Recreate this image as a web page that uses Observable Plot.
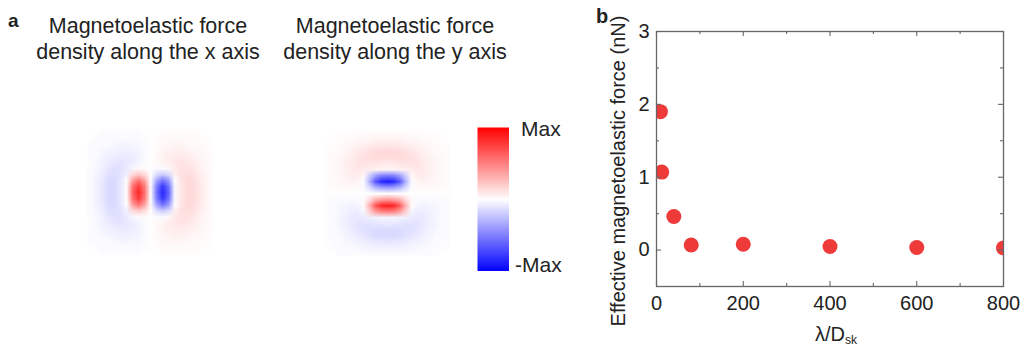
<!DOCTYPE html>
<html>
<head>
<meta charset="utf-8">
<script src="https://cdn.jsdelivr.net/npm/d3@7"></script>
<script src="https://cdn.jsdelivr.net/npm/@observablehq/plot@0.6"></script>
<style>
  body { margin: 0; background: #fff; }
  #root { position: relative; width: 1025px; height: 345px; overflow: hidden; background: #fff;
          font-family: "Liberation Sans", Arial, Helvetica, sans-serif; }
  .panel { position: absolute; }
  .panel svg { display: block; }
</style>
</head>
<body>
<div id="root"></div>
<script>
// ---------------- data ----------------
// panel a: magnetoelastic force density maps, 21 x 21 samples 6 px apart (row 0 = top), normalised to Max = 1
const forceDensityX = [
  [0,0,-0.01,-0.01,-0.01,-0.01,-0.01,-0.01,-0.01,0,0,0,0.01,0.01,0.01,0.01,0.01,0.01,0.01,0,0],
  [0,-0.01,-0.01,-0.02,-0.02,-0.02,-0.02,-0.02,-0.02,-0.01,0,0.01,0.02,0.02,0.02,0.02,0.02,0.02,0.01,0.01,0],
  [-0.01,-0.01,-0.02,-0.02,-0.03,-0.04,-0.04,-0.03,-0.03,-0.01,0,0.01,0.03,0.03,0.04,0.04,0.03,0.02,0.02,0.01,0.01],
  [-0.01,-0.02,-0.03,-0.04,-0.05,-0.06,-0.06,-0.05,-0.04,-0.02,0,0.02,0.04,0.05,0.06,0.06,0.05,0.04,0.03,0.02,0.01],
  [-0.01,-0.02,-0.04,-0.06,-0.07,-0.08,-0.08,-0.07,-0.05,-0.02,0,0.02,0.05,0.07,0.08,0.08,0.07,0.06,0.04,0.02,0.01],
  [-0.01,-0.03,-0.05,-0.08,-0.10,-0.11,-0.09,-0.07,-0.04,-0.02,0,0.02,0.04,0.07,0.09,0.11,0.10,0.08,0.05,0.03,0.01],
  [-0.01,-0.03,-0.06,-0.10,-0.12,-0.11,-0.08,-0.03,0.02,0.02,0,-0.02,-0.02,0.03,0.08,0.11,0.12,0.10,0.06,0.03,0.01],
  [-0.02,-0.04,-0.08,-0.12,-0.13,-0.11,-0.06,0.15,0.21,0.14,0,-0.14,-0.21,-0.15,0.06,0.11,0.13,0.12,0.08,0.04,0.02],
  [-0.02,-0.05,-0.09,-0.14,-0.14,-0.10,0,0.39,0.55,0.36,0,-0.36,-0.55,-0.39,0,0.10,0.14,0.14,0.09,0.05,0.02],
  [-0.02,-0.05,-0.10,-0.15,-0.14,-0.09,0.02,0.55,0.78,0.51,0,-0.51,-0.78,-0.55,-0.02,0.09,0.14,0.15,0.10,0.05,0.02],
  [-0.02,-0.05,-0.10,-0.15,-0.14,-0.08,0.02,0.60,0.85,0.55,0,-0.55,-0.85,-0.60,-0.02,0.08,0.14,0.15,0.10,0.05,0.02],
  [-0.02,-0.05,-0.10,-0.15,-0.14,-0.09,0.02,0.55,0.78,0.51,0,-0.51,-0.78,-0.55,-0.02,0.09,0.14,0.15,0.10,0.05,0.02],
  [-0.02,-0.05,-0.09,-0.14,-0.14,-0.10,0,0.39,0.55,0.36,0,-0.36,-0.55,-0.39,0,0.10,0.14,0.14,0.09,0.05,0.02],
  [-0.02,-0.04,-0.08,-0.12,-0.13,-0.11,-0.06,0.15,0.21,0.14,0,-0.14,-0.21,-0.15,0.06,0.11,0.13,0.12,0.08,0.04,0.02],
  [-0.01,-0.03,-0.06,-0.10,-0.12,-0.11,-0.08,-0.03,0.02,0.02,0,-0.02,-0.02,0.03,0.08,0.11,0.12,0.10,0.06,0.03,0.01],
  [-0.01,-0.03,-0.05,-0.08,-0.10,-0.11,-0.09,-0.07,-0.04,-0.02,0,0.02,0.04,0.07,0.09,0.11,0.10,0.08,0.05,0.03,0.01],
  [-0.01,-0.02,-0.04,-0.06,-0.07,-0.08,-0.08,-0.07,-0.05,-0.02,0,0.02,0.05,0.07,0.08,0.08,0.07,0.06,0.04,0.02,0.01],
  [-0.01,-0.02,-0.03,-0.04,-0.05,-0.06,-0.06,-0.05,-0.04,-0.02,0,0.02,0.04,0.05,0.06,0.06,0.05,0.04,0.03,0.02,0.01],
  [-0.01,-0.01,-0.02,-0.02,-0.03,-0.04,-0.04,-0.03,-0.03,-0.01,0,0.01,0.03,0.03,0.04,0.04,0.03,0.02,0.02,0.01,0.01],
  [0,-0.01,-0.01,-0.02,-0.02,-0.02,-0.02,-0.02,-0.02,-0.01,0,0.01,0.02,0.02,0.02,0.02,0.02,0.02,0.01,0.01,0],
  [0,0,-0.01,-0.01,-0.01,-0.01,-0.01,-0.01,-0.01,0,0,0,0.01,0.01,0.01,0.01,0.01,0.01,0.01,0,0]
];
const forceDensityY = [
  [0,0,0.01,0.01,0.01,0.01,0.01,0.02,0.02,0.02,0.02,0.02,0.02,0.02,0.01,0.01,0.01,0.01,0.01,0,0],
  [0,0.01,0.01,0.02,0.02,0.03,0.04,0.04,0.05,0.05,0.05,0.05,0.05,0.04,0.04,0.03,0.02,0.02,0.01,0.01,0],
  [0.01,0.01,0.02,0.03,0.04,0.05,0.06,0.08,0.09,0.10,0.10,0.10,0.09,0.08,0.06,0.05,0.04,0.03,0.02,0.01,0.01],
  [0.01,0.02,0.02,0.04,0.06,0.08,0.10,0.12,0.14,0.15,0.15,0.15,0.14,0.12,0.10,0.08,0.06,0.04,0.02,0.02,0.01],
  [0.01,0.02,0.03,0.05,0.07,0.10,0.12,0.13,0.14,0.14,0.14,0.14,0.14,0.13,0.12,0.10,0.07,0.05,0.03,0.02,0.01],
  [0.01,0.02,0.04,0.06,0.08,0.11,0.11,0.11,0.10,0.09,0.08,0.09,0.10,0.11,0.11,0.11,0.08,0.06,0.04,0.02,0.01],
  [0.01,0.02,0.04,0.06,0.08,0.09,0.08,0.06,0.05,0.04,0.04,0.04,0.05,0.06,0.08,0.09,0.08,0.06,0.04,0.02,0.01],
  [0.01,0.02,0.03,0.05,0.07,0.07,0.03,-0.19,-0.38,-0.48,-0.50,-0.48,-0.38,-0.19,0.03,0.07,0.07,0.05,0.03,0.02,0.01],
  [0.01,0.02,0.03,0.04,0.05,0.04,-0.02,-0.31,-0.66,-0.84,-0.88,-0.84,-0.66,-0.31,-0.02,0.04,0.05,0.04,0.03,0.02,0.01],
  [0.01,0.01,0.02,0.02,0.02,0.02,-0.02,-0.14,-0.30,-0.37,-0.40,-0.37,-0.30,-0.14,-0.02,0.02,0.02,0.02,0.02,0.01,0.01],
  [0,0,0,0,0,0,0,0,0,0,0,0,0,0,0,0,0,0,0,0,0],
  [-0.01,-0.01,-0.02,-0.02,-0.02,-0.02,0.02,0.14,0.30,0.37,0.40,0.37,0.30,0.14,0.02,-0.02,-0.02,-0.02,-0.02,-0.01,-0.01],
  [-0.01,-0.02,-0.03,-0.04,-0.05,-0.04,0.02,0.31,0.66,0.84,0.88,0.84,0.66,0.31,0.02,-0.04,-0.05,-0.04,-0.03,-0.02,-0.01],
  [-0.01,-0.02,-0.03,-0.05,-0.07,-0.07,-0.03,0.19,0.38,0.48,0.50,0.48,0.38,0.19,-0.03,-0.07,-0.07,-0.05,-0.03,-0.02,-0.01],
  [-0.01,-0.02,-0.04,-0.06,-0.08,-0.09,-0.08,-0.06,-0.05,-0.04,-0.04,-0.04,-0.05,-0.06,-0.08,-0.09,-0.08,-0.06,-0.04,-0.02,-0.01],
  [-0.01,-0.02,-0.04,-0.06,-0.08,-0.11,-0.11,-0.11,-0.10,-0.09,-0.08,-0.09,-0.10,-0.11,-0.11,-0.11,-0.08,-0.06,-0.04,-0.02,-0.01],
  [-0.01,-0.02,-0.03,-0.05,-0.07,-0.10,-0.12,-0.13,-0.14,-0.14,-0.14,-0.14,-0.14,-0.13,-0.12,-0.10,-0.07,-0.05,-0.03,-0.02,-0.01],
  [-0.01,-0.02,-0.02,-0.04,-0.06,-0.08,-0.10,-0.12,-0.14,-0.15,-0.15,-0.15,-0.14,-0.12,-0.10,-0.08,-0.06,-0.04,-0.02,-0.02,-0.01],
  [-0.01,-0.01,-0.02,-0.03,-0.04,-0.05,-0.06,-0.08,-0.09,-0.10,-0.10,-0.10,-0.09,-0.08,-0.06,-0.05,-0.04,-0.03,-0.02,-0.01,-0.01],
  [0,-0.01,-0.01,-0.02,-0.02,-0.03,-0.04,-0.04,-0.05,-0.05,-0.05,-0.05,-0.05,-0.04,-0.04,-0.03,-0.02,-0.02,-0.01,-0.01,0],
  [0,0,-0.01,-0.01,-0.01,-0.01,-0.01,-0.02,-0.02,-0.02,-0.02,-0.02,-0.02,-0.02,-0.01,-0.01,-0.01,-0.01,-0.01,0,0]
];
const mapTitles = [
  ["Magnetoelastic force", "density along the x axis"],
  ["Magnetoelastic force", "density along the y axis"]
];
const colorbarLabels = ["Max", "-Max"];

// panel b: effective magnetoelastic force vs lambda / D_sk
const lambdaOverD = [9, 12, 40, 80, 200, 400, 600, 800];
const effectiveForce = [1.90, 1.07, 0.46, 0.07, 0.08, 0.05, 0.035, 0.03];
const xMajorTicks = [0, 200, 400, 600, 800];
const xMinorTicks = [100, 300, 500, 700];
const yMajorTicks = [0, 1, 2, 3];
const yMinorTicks = [-0.5, 0.5, 1.5, 2.5];
const yLabel = "Effective magnetoelastic force (nN)";

// ---------------- drawing ----------------
const FONT = '"Liberation Sans", Arial, Helvetica, sans-serif';
const root = document.getElementById("root");
function place(node, left, top) {
  const d = document.createElement("div");
  d.className = "panel";
  d.style.left = left + "px";
  d.style.top = top + "px";
  d.appendChild(node);
  root.appendChild(d);
  return node;
}
const colorScale = {type: "linear", domain: [-1, 0, 1], range: ["#0000ff", "#ffffff", "#ff0000"], interpolate: "rgb", clamp: true};

function heatmap(grid) {
  const nx = grid[0].length, ny = grid.length;
  return Plot.plot({
    width: 126, height: 126, margin: 0,
    style: {background: "transparent", overflow: "hidden"},
    x: {domain: [0, nx], axis: null},
    y: {domain: [ny, 0], axis: null},
    color: colorScale,
    marks: [Plot.raster(grid.flat(), {width: nx, height: ny, x1: 0, y1: 0, x2: nx, y2: ny, fill: d => d})]
  });
}
place(heatmap(forceDensityX), 87, 129);
place(heatmap(forceDensityY), 324, 130);

// colorbar
place(Plot.plot({
  width: 32, height: 144, margin: 0,
  style: {background: "transparent", overflow: "hidden"},
  x: {domain: [0, 1], axis: null},
  y: {domain: [-1, 1], axis: null},
  color: colorScale,
  marks: [Plot.raster({fill: (x, y) => y, x1: 0, x2: 1, y1: -1, y2: 1})]
}), 477, 127);

// panel b scatter
const W = 425, H = 345, ML = 56, MR = 22, MT = 31, MB = 59;
const PW = W - ML - MR, PH = H - MT - MB;
const points = lambdaOverD.map((x, i) => ({x, y: effectiveForce[i]}));
const tickStroke = {stroke: "#666", strokeWidth: 1.1};
const pb = Plot.plot({
  width: W, height: H,
  marginLeft: ML, marginRight: MR, marginTop: MT, marginBottom: MB,
  style: {fontFamily: FONT, fontSize: "20px", color: "#222", background: "transparent", overflow: "visible"},
  x: {domain: [0, 800]},
  y: {domain: [-0.5, 3]},
  marks: [
    Plot.dot(points, {x: "x", y: "y", r: 7.5, fill: "#ef3a3a", clip: true}),
    // inward ticks on all four sides
    Plot.tickX(xMajorTicks, {x: d => d, insetTop: PH - 5, ...tickStroke}),
    Plot.tickX(xMinorTicks, {x: d => d, insetTop: PH - 3, ...tickStroke}),
    Plot.tickX(xMajorTicks, {x: d => d, insetBottom: PH - 5, ...tickStroke}),
    Plot.tickX(xMinorTicks, {x: d => d, insetBottom: PH - 3, ...tickStroke}),
    Plot.tickY(yMajorTicks, {y: d => d, insetRight: PW - 5, ...tickStroke}),
    Plot.tickY(yMinorTicks, {y: d => d, insetRight: PW - 3, ...tickStroke}),
    Plot.tickY(yMajorTicks, {y: d => d, insetLeft: PW - 5, ...tickStroke}),
    Plot.tickY(yMinorTicks, {y: d => d, insetLeft: PW - 3, ...tickStroke}),
    // tick labels
    Plot.axisX({anchor: "bottom", ticks: xMajorTicks, tickSize: 0, tickPadding: 9, tickFormat: d => String(d), fontSize: 20, fill: "#222", label: null}),
    Plot.axisY({anchor: "left", ticks: yMajorTicks, tickSize: 0, tickPadding: 7, tickFormat: d => String(d), fontSize: 20, fill: "#222", label: null}),
    Plot.frame({stroke: "#666", strokeWidth: 1.3})
  ]
});
place(pb, 600, 0);
// axis titles (with subscript) added in the plot's own SVG
const sb = d3.select(pb);
sb.append("text")
  .attr("transform", "translate(24.5,171) rotate(-90)")
  .attr("text-anchor", "middle")
  .attr("font-family", FONT).attr("font-size", 20).attr("fill", "#222")
  .text(yLabel);
const xl = sb.append("text")
  .attr("x", 215).attr("y", 340.5).attr("text-anchor", "start")
  .attr("font-family", FONT).attr("font-size", 20).attr("fill", "#222");
xl.append("tspan").text("λ/D");
xl.append("tspan").attr("font-size", 12).attr("dy", 3).text("sk");

// text overlay for panel labels, titles and colorbar labels
const ov = d3.create("svg").attr("width", 1025).attr("height", 345)
  .attr("font-family", FONT).attr("fill", "#222");
ov.append("text").attr("x", 8).attr("y", 27).attr("font-size", 19).attr("font-weight", "bold").text("a");
ov.append("text").attr("x", 596).attr("y", 23).attr("font-size", 20).attr("font-weight", "bold").text("b");
const centers = [148, 395];
mapTitles.forEach((lines, k) => {
  lines.forEach((t, j) => {
    ov.append("text").attr("x", centers[k]).attr("y", 32.5 + 26 * j)
      .attr("text-anchor", "middle").attr("font-size", 21.5).text(t);
  });
});
ov.append("text").attr("x", 521).attr("y", 135.7).attr("font-size", 21).text(colorbarLabels[0]);
ov.append("text").attr("x", 515).attr("y", 271.5).attr("font-size", 21).text(colorbarLabels[1]);
const ovNode = ov.node();
ovNode.style.pointerEvents = "none";
place(ovNode, 0, 0);
</script>
</body>
</html>
